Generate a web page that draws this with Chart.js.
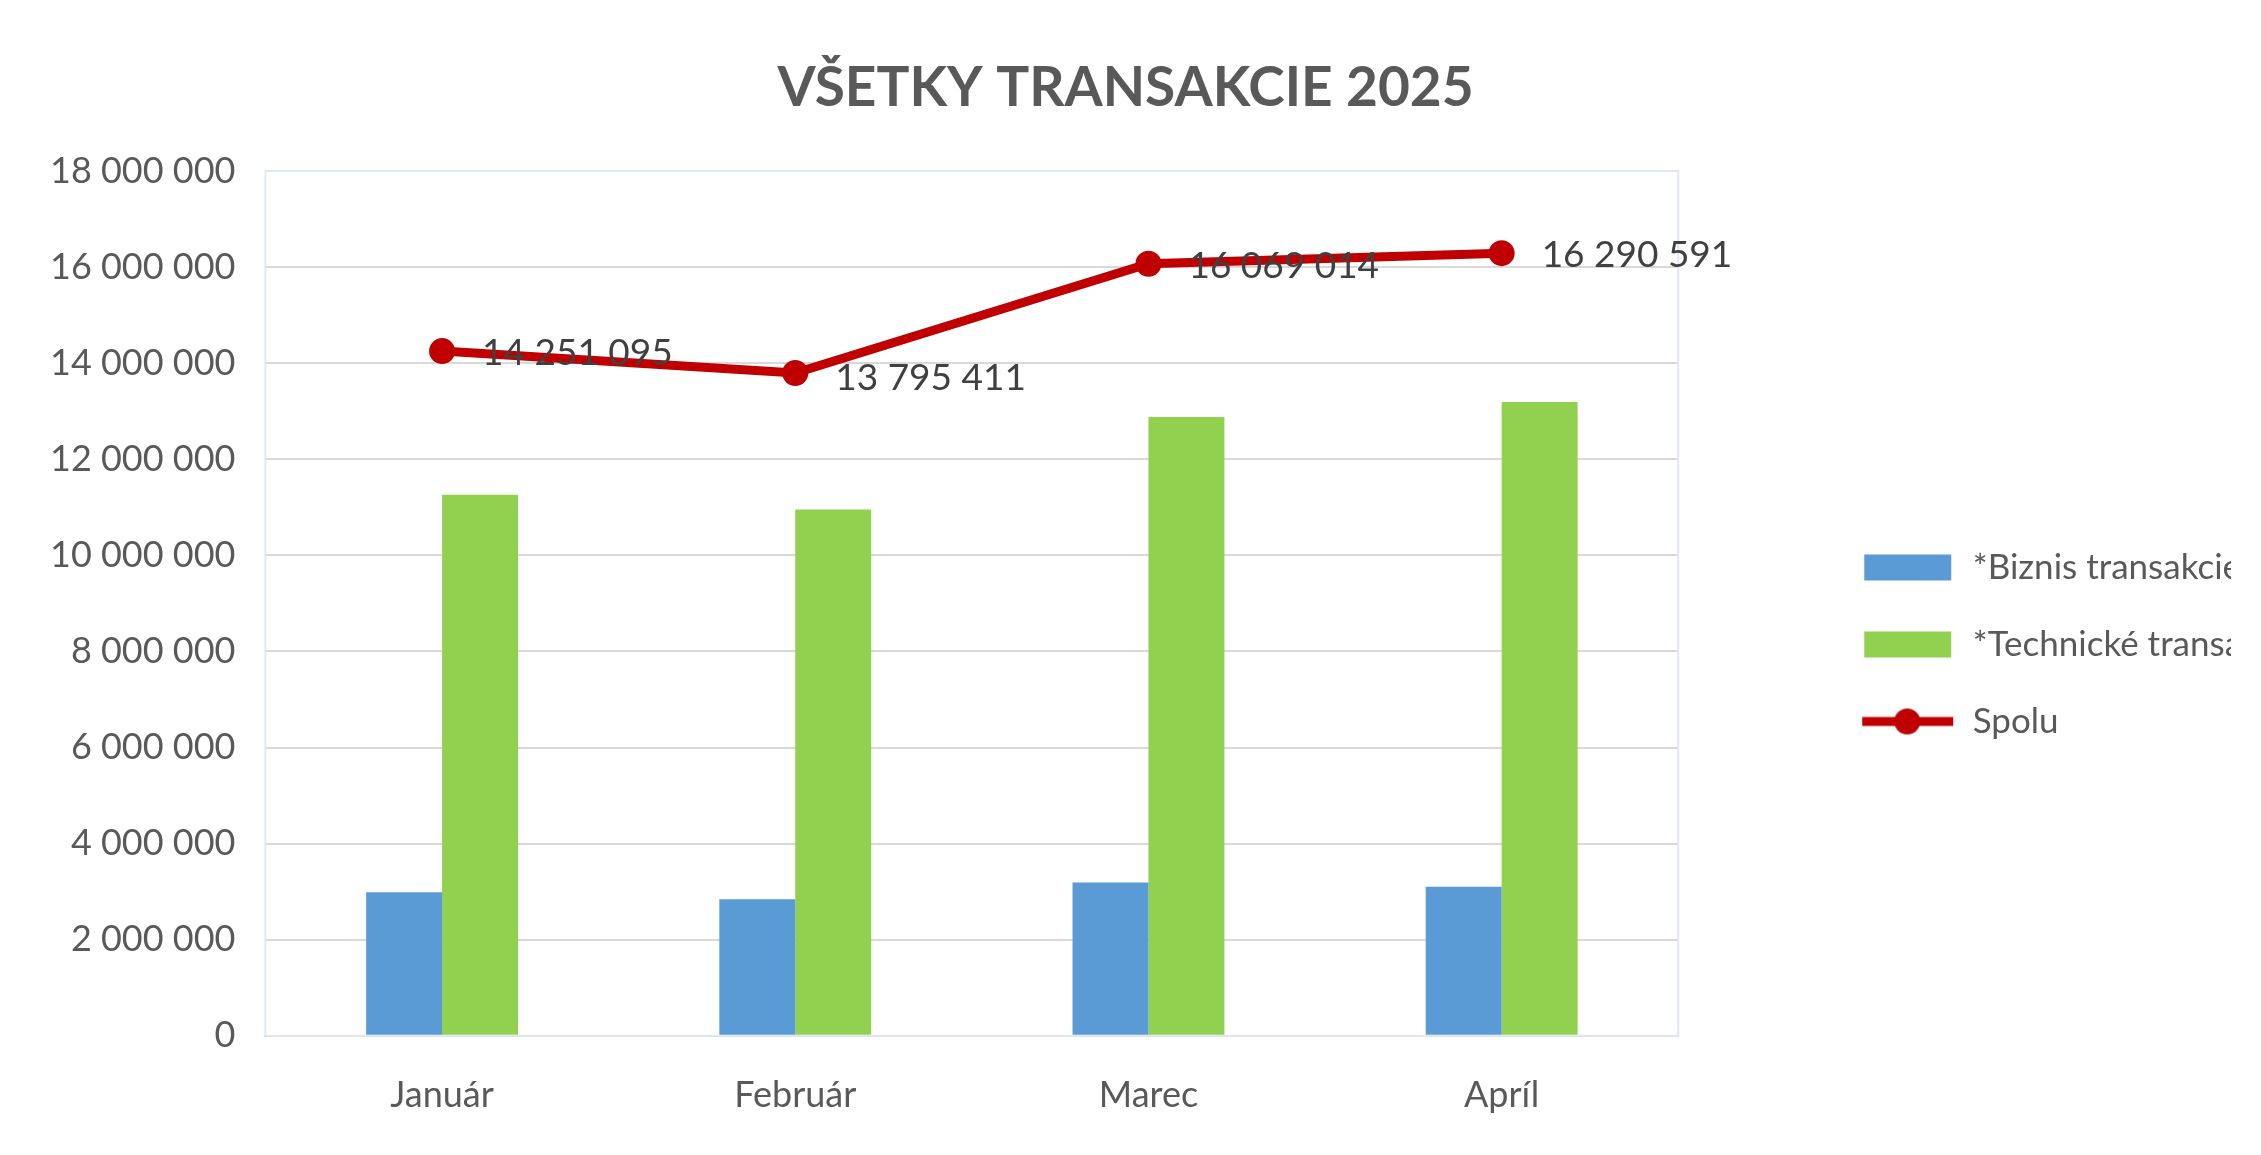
<!DOCTYPE html>
<html>
<head>
<meta charset="utf-8">
<script src="https://cdn.jsdelivr.net/npm/chart.js@4"></script>
<style>
  html, body { margin: 0; padding: 0; background: #fff; }
  #wrap { width: 2261px; height: 1155px; }
</style>
</head>
<body>
<div id="wrap"><canvas id="chart"></canvas></div>
<script>
const MONTHS = ["Január", "Február", "Marec", "Apríl"];
const BIZNIS = [2990000, 2840000, 3190000, 3100000];
const TECHNICKE = [11261095, 10955411, 12879014, 13190591];
const SPOLU = [14251095, 13795411, 16069014, 16290591];

const FONT = "Lato, 'Open Sans', sans-serif";
const TEXT = "#595959";

function fmt(v) {
    return String(v).replace(/\B(?=(\d{3})+(?!\d))/g, " ");
}

// legend symbols; left part of each canvas is left empty to push the legend away from the plot
const GAP = 70;
function rectIcon(color) {
    const c = document.createElement("canvas");
    c.width = 95 + GAP * 2; c.height = 30;
    const g = c.getContext("2d");
    g.fillStyle = color;
    g.fillRect(GAP * 2 + 4, 2, 87, 26);
    return c;
}
function lineIcon(color) {
    const c = document.createElement("canvas");
    c.width = 95 + GAP * 2; c.height = 30;
    const g = c.getContext("2d");
    g.strokeStyle = color;
    g.lineWidth = 9;
    g.beginPath(); g.moveTo(GAP * 2 + 2, 15); g.lineTo(GAP * 2 + 93, 15); g.stroke();
    g.fillStyle = color;
    g.beginPath(); g.arc(GAP * 2 + 47, 15, 13, 0, Math.PI * 2); g.fill();
    return c;
}

const valueLabels = {
    id: "valueLabels",
    afterDatasetsDraw(chart) {
        const meta = chart.getDatasetMeta(2);
        const g = chart.ctx;
        g.save();
        g.font = "37px " + FONT;
        g.fillStyle = "#404040";
        g.textAlign = "left";
        g.textBaseline = "middle";
        meta.data.forEach((pt, i) => {
            g.fillText(fmt(SPOLU[i]), pt.x + 40, pt.y + (i === 1 ? 5 : 2));
        });
        g.restore();
    }
};

const areaBorder = {
    id: "areaBorder",
    beforeDatasetsDraw(chart) {
        const a = chart.chartArea;
        const g = chart.ctx;
        g.save();
        g.strokeStyle = "#dde9f5";
        g.lineWidth = 2;
        g.strokeRect(a.left, a.top, a.right - a.left, a.bottom - a.top);
        g.restore();
    }
};

const ctx = document.getElementById("chart").getContext("2d");

const chart = new Chart(ctx, {
    data: {
        labels: MONTHS,
        datasets: [
            {
                type: "bar",
                label: "*Biznis transakcie",
                data: BIZNIS,
                backgroundColor: "#5b9bd5",
                categoryPercentage: 0.43,
                barPercentage: 1,
                order: 2
            },
            {
                type: "bar",
                label: "*Technické transakcie",
                data: TECHNICKE,
                backgroundColor: "#92d050",
                categoryPercentage: 0.43,
                barPercentage: 1,
                order: 2
            },
            {
                type: "line",
                label: "Spolu",
                data: SPOLU,
                borderColor: "#c00000",
                backgroundColor: "#c00000",
                borderWidth: 9,
                pointRadius: 13,
                pointHoverRadius: 13,
                pointBackgroundColor: "#c00000",
                pointBorderWidth: 0,
                tension: 0,
                order: 1
            }
        ]
    },
    options: {
        responsive: true,
        maintainAspectRatio: false,
        animation: false,
        layout: { padding: { left: 20, right: 30, top: 20, bottom: 8 } },
        plugins: {
            title: {
                display: true,
                text: "VŠETKY TRANSAKCIE 2025",
                color: TEXT,
                font: { family: FONT, size: 55, weight: "bold" },
                padding: { top: 35, bottom: 50 }
            },
            legend: {
                position: "right",
                title: { display: true, text: " ", padding: { top: 0, bottom: 110 }, font: { size: 10 } },
                labels: {
                    color: TEXT,
                    font: { family: FONT, size: 35 },
                    usePointStyle: true,
                    pointStyleWidth: 95 + GAP * 2,
                    padding: 42,
                    generateLabels(ch) {
                        const icons = [rectIcon("#5b9bd5"), rectIcon("#92d050"), lineIcon("#c00000")];
                        return ch.data.datasets.map((ds, i) => ({
                            text: ds.label,
                            fontColor: TEXT,
                            pointStyle: icons[i],
                            datasetIndex: i,
                            hidden: false,
                            lineWidth: 0
                        }));
                    }
                }
            },
            tooltip: { enabled: false }
        },
        scales: {
            x: {
                grid: { display: false },
                border: { color: "#d0d0d0", width: 2 },
                ticks: { color: TEXT, font: { family: FONT, size: 36 }, padding: 30 }
            },
            y: {
                min: 0,
                max: 18000000,
                ticks: {
                    stepSize: 2000000,
                    color: TEXT,
                    font: { family: FONT, size: 36 },
                    padding: 30,
                    callback: (v) => fmt(v)
                },
                grid: { color: "#d9d9d9", lineWidth: 2, drawTicks: false },
                border: { display: false }
            }
        }
    },
    plugins: [areaBorder, valueLabels]
});
</script>
</body>
</html>
